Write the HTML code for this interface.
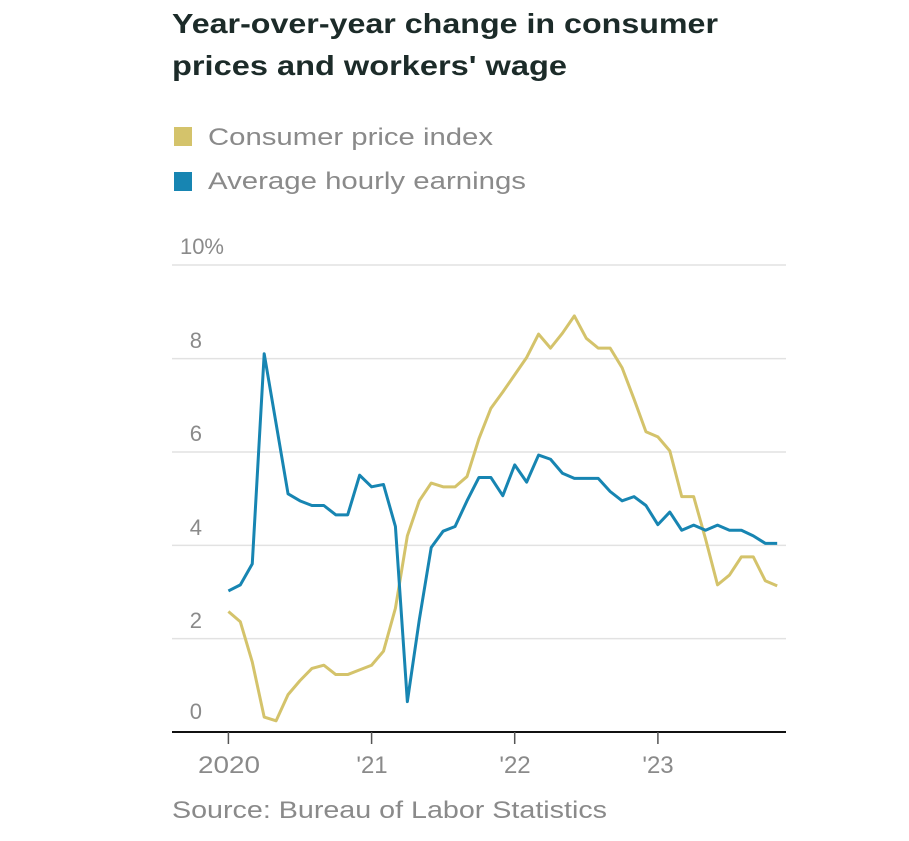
<!DOCTYPE html>
<html><head><meta charset="utf-8"><style>
html,body{margin:0;padding:0;background:#fff;}
svg{display:block;font-family:"Liberation Sans",sans-serif;}
</style></head><body>
<svg width="909" height="841" viewBox="0 0 909 841" xmlns="http://www.w3.org/2000/svg">
<text x="172" y="33" font-size="28" font-weight="bold" fill="#1c2b29" textLength="546" lengthAdjust="spacingAndGlyphs">Year-over-year change in consumer</text>
<text x="172" y="75" font-size="28" font-weight="bold" fill="#1c2b29" textLength="395" lengthAdjust="spacingAndGlyphs">prices and workers' wage</text>
<rect x="174" y="127" width="18" height="19" fill="#d4c36b"/>
<text x="208" y="145" font-size="24" fill="#8a8a8a" textLength="285" lengthAdjust="spacingAndGlyphs">Consumer price index</text>
<rect x="174" y="172" width="18" height="19" fill="#1785b2"/>
<text x="208" y="189" font-size="24" fill="#8a8a8a" textLength="318" lengthAdjust="spacingAndGlyphs">Average hourly earnings</text>
<g stroke="#e2e2e2" stroke-width="1.5">
<line x1="172" y1="265" x2="786" y2="265"/>
<line x1="172" y1="358.6" x2="786" y2="358.6"/>
<line x1="172" y1="452" x2="786" y2="452"/>
<line x1="172" y1="545.4" x2="786" y2="545.4"/>
<line x1="172" y1="638.6" x2="786" y2="638.6"/>
</g>
<g font-size="22" fill="#8a8a8a" text-anchor="end">
<text x="224" y="254">10%</text>
<text x="202" y="348">8</text>
<text x="202" y="441">6</text>
<text x="202" y="535">4</text>
<text x="202" y="628">2</text>
<text x="202" y="719">0</text>
</g>
<g fill="none" stroke-width="3" stroke-linejoin="round" transform="translate(228.4,732) scale(11.93,-46.7)">
<polyline vector-effect="non-scaling-stroke" stroke="#d4c36b" points="0,2.58 1,2.36 2,1.5 3,0.32 4,0.24 5,0.8 6,1.1 7,1.36 8,1.43 9,1.23 10,1.23 11,1.33 12,1.43 13,1.73 14,2.65 15,4.2 16,4.95 17,5.33 18,5.25 19,5.25 20,5.47 21,6.28 22,6.93 23,7.28 24,7.65 25,8.02 26,8.52 27,8.22 28,8.54 29,8.91 30,8.43 31,8.22 32,8.22 33,7.8 34,7.13 35,6.43 36,6.32 37,6.02 38,5.04 39,5.04 40,4.13 41,3.15 42,3.36 43,3.75 44,3.75 45,3.24 46,3.13"/>
<polyline vector-effect="non-scaling-stroke" stroke="#1785b2" points="0,3.02 1,3.15 2,3.6 3,8.1 4,6.6 5,5.1 6,4.95 7,4.85 8,4.85 9,4.65 10,4.65 11,5.5 12,5.25 13,5.3 14,4.4 15,0.65 16,2.4 17,3.95 18,4.3 19,4.4 20,4.95 21,5.45 22,5.45 23,5.06 24,5.72 25,5.35 26,5.93 27,5.84 28,5.54 29,5.43 30,5.43 31,5.43 32,5.15 33,4.95 34,5.04 35,4.85 36,4.44 37,4.71 38,4.32 39,4.43 40,4.32 41,4.43 42,4.32 43,4.32 44,4.2 45,4.04 46,4.04"/>
</g>
<line x1="172" y1="732" x2="786" y2="732" stroke="#111" stroke-width="2"/>
<g stroke="#555" stroke-width="1.5">
<line x1="228.4" y1="732" x2="228.4" y2="744"/>
<line x1="371.6" y1="732" x2="371.6" y2="744"/>
<line x1="514.7" y1="732" x2="514.7" y2="744"/>
<line x1="657.9" y1="732" x2="657.9" y2="744"/>
</g>
<g font-size="24" fill="#8a8a8a" text-anchor="middle">
<text x="229" y="773" textLength="62" lengthAdjust="spacingAndGlyphs">2020</text>
<text x="372" y="773">'21</text>
<text x="515" y="773">'22</text>
<text x="658" y="773">'23</text>
</g>
<text x="172" y="818" font-size="24" fill="#8a8a8a" textLength="435" lengthAdjust="spacingAndGlyphs">Source: Bureau of Labor Statistics</text>
</svg>
</body></html>
